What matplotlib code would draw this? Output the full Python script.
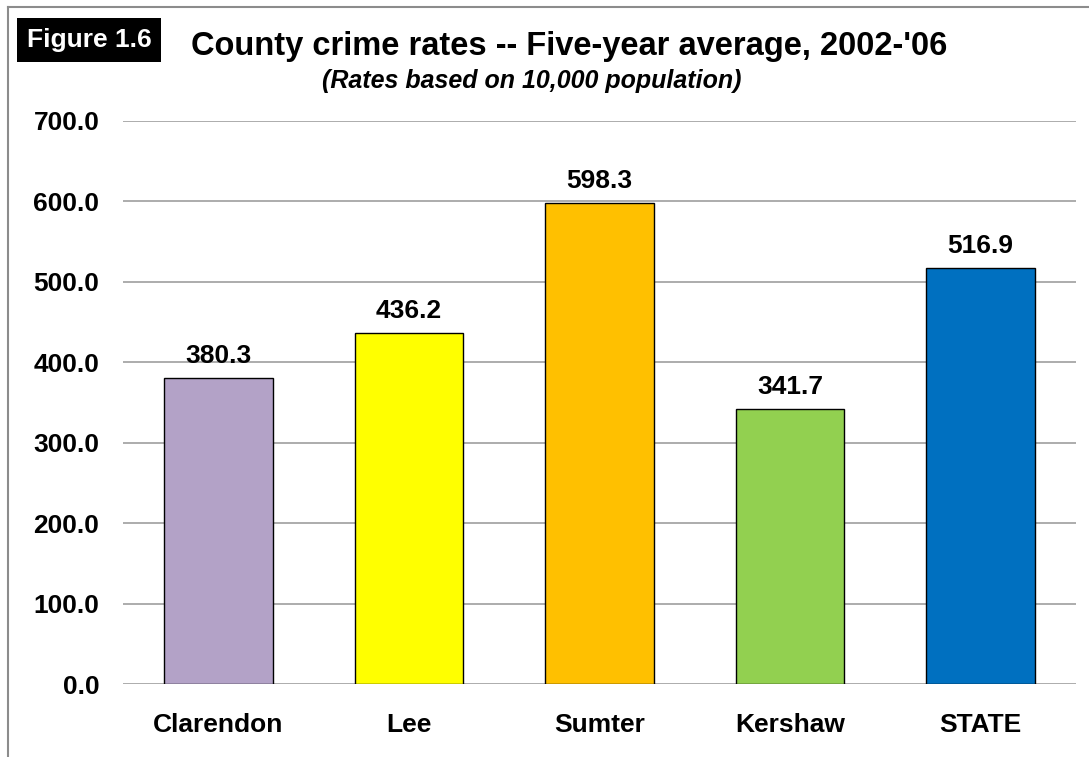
import matplotlib.pyplot as plt
from matplotlib.patches import Rectangle
from matplotlib import rcParams

rcParams['font.family'] = ['Liberation Sans', 'DejaVu Sans']
rcParams['font.weight'] = 'bold'

counties = ['Clarendon', 'Lee', 'Sumter', 'Kershaw', 'STATE']
rates = [380.3, 436.2, 598.3, 341.7, 516.9]
colors = ['#B3A2C7', '#FFFF00', '#FFC000', '#92D050', '#0070C0']
yticks = [0, 100, 200, 300, 400, 500, 600, 700]

W, H = 1089, 757
fig = plt.figure(figsize=(W / 100, H / 100), dpi=100)

# outer frame (left and top edges only visible)
fig.add_artist(plt.Line2D([8 / W, 8 / W], [0, 1 - 7 / H], color='#8C8C8C', lw=1.5))
fig.add_artist(plt.Line2D([8 / W, 1], [1 - 7 / H, 1 - 7 / H], color='#8C8C8C', lw=1.5))

ax = fig.add_axes([123 / W, 1 - 684 / H, (1076 - 123) / W, (684 - 121) / H])
x = range(len(counties))
ax.bar(x, rates, width=0.57, color=colors, edgecolor='black', linewidth=1.0, zorder=3)
for xi, v in zip(x, rates):
    ax.text(xi, v + 19, f'{v:.1f}', ha='center', va='baseline', fontsize=19,
            fontweight='bold', zorder=4)

ax.set_xlim(-0.5, len(counties) - 0.5)
ax.set_ylim(0, 700)
ax.set_yticks(yticks)
ax.set_yticklabels([f'{t:.1f}' for t in yticks], fontsize=19, fontweight='bold')
ax.set_xticks(list(x))
ax.set_xticklabels(counties, fontsize=19, fontweight='bold')
ax.yaxis.grid(True, color='#A6A6A6', lw=1.3, zorder=0)
ax.tick_params(axis='both', length=0)
ax.tick_params(axis='y', pad=17)
ax.tick_params(axis='x', pad=21)
for s in ax.spines.values():
    s.set_visible(False)

# figure tag and titles
fig.add_artist(Rectangle((17 / W, 1 - 62 / H), (161 - 17) / W, (62 - 18) / H,
                         transform=fig.transFigure, facecolor='black', edgecolor='none'))
fig.text(89 / W, 1 - 40 / H, 'Figure 1.6', color='white', fontsize=19, fontweight='bold',
         ha='center', va='center')
fig.text(569 / W, 1 - 47 / H, "County crime rates -- Five-year average, 2002-'06",
         fontsize=23.5, fontweight='bold', ha='center', va='center')
fig.text(532 / W, 1 - 81 / H, '(Rates based on 10,000 population)',
         fontsize=18, fontweight='bold', style='italic', ha='center', va='center')

fig.savefig('out.png', dpi=100)
